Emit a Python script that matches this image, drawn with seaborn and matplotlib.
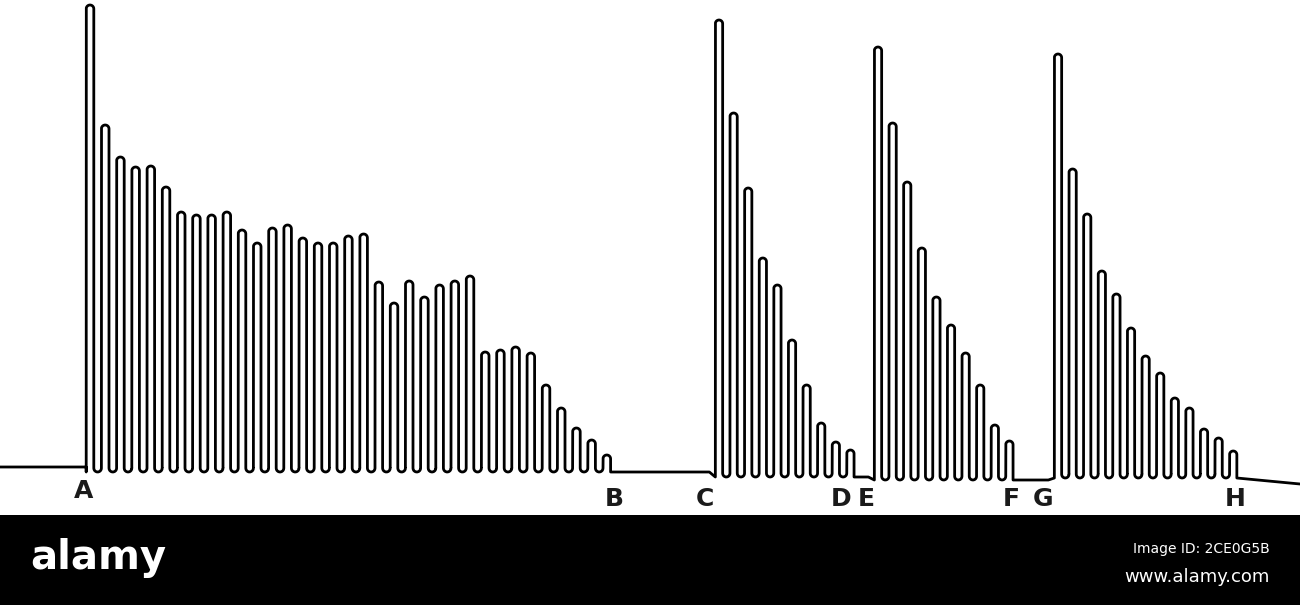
import numpy as np
import pandas as pd
import matplotlib
matplotlib.use('Agg')
import matplotlib.pyplot as plt
from matplotlib import font_manager
import seaborn as sns

# Ergograph tracing: lift heights of each contraction, read off the drum
# (units = height above the abscissa of each series)
heights_ab = [467, 347, 315, 305, 306, 285, 260, 257, 257, 260, 242, 229,
              244, 247, 234, 229, 229, 236, 238, 190, 169, 191, 175, 187,
              191, 196, 120, 122, 125, 119, 87, 64, 44, 32, 17]
heights_cd = [457, 364, 289, 219, 192, 137, 92, 54, 35, 27]
heights_ef = [433, 357, 298, 232, 183, 155, 127, 95, 55, 39]
heights_gh = [424, 309, 264, 207, 184, 150, 122, 105, 80, 70, 49, 40, 27]
series_labels = [("A", "B"), ("C", "D"), ("E", "F"), ("G", "H")]

# drum layout (where each series starts, beat spacing, baseline drift)
series = [heights_ab, heights_cd, heights_ef, heights_gh]
starts = [90, 719, 878, 1058]
steps = [15.2, 14.6, 14.6, 14.6]
bases = [0, -5, -8, -6]
label_dx = [(-6, 7), (-14, -9), (-12, 2), (-15, 2)]

sns.set_theme(style="white")
plt.rcParams['font.family'] = ['DejaVu Sans']

names = {f.name for f in font_manager.fontManager.ttflist}
narrow = 'Liberation Sans Narrow' in names


def trace_series(x0, step, hs, base):
    # one continuous pen line: up-stroke, rounded top, down-stroke, rounded foot
    w = step / 4
    xs, ys = [], []
    for i, h in enumerate(hs):
        c = x0 + i * step
        xs += [c - w, c - w]
        ys += [base + w if i else base, base + h - w]
        t = np.linspace(np.pi, 0, 14)
        xs += list(c + w * np.cos(t))
        ys += list(base + h - w + w * np.sin(t))
        if i < len(hs) - 1:
            t = np.linspace(np.pi, 2 * np.pi, 10)
            xs += list(c + 2 * w + w * np.cos(t))
            ys += list(base + w + w * np.sin(t))
        else:
            xs += [c + w]
            ys += [base]
    return xs, ys


xs, ys = [0, starts[0] - steps[0] / 4], [5, 5]
for k, (hs, x0, st, b) in enumerate(zip(series, starts, steps, bases)):
    gx, gy = trace_series(x0, st, hs, b)
    if k:
        # pen runs flat along the previous abscissa until the next series
        xs.append(x0 - st / 4 - 6)
        ys.append(ys[-1])
    xs += gx
    ys += gy
xs.append(1300)
ys.append(-12)

trace = pd.DataFrame({'x': xs, 'y': ys, 'order': np.arange(len(xs))})

fig = plt.figure(figsize=(13, 6.05), dpi=100)
ax = fig.add_axes([0, 90 / 605, 1, 515 / 605])
sns.lineplot(data=trace, x='x', y='y', sort=False, estimator=None,
             color='black', lw=2.0, ax=ax)
ax.set_xlim(0, 1300)
ax.set_ylim(-43, 472)
ax.axis('off')

for hs, x0, st, b, (l1, l2), (d1, d2) in zip(series, starts, steps, bases,
                                               series_labels, label_dx):
    ya = -19 if l1 == "A" else -27
    ax.text(x0 + d1, ya, l1, ha='center', va='center', fontsize=18,
            fontweight='bold', color='#1a1a1a')
    ax.text(x0 + (len(hs) - 1) * st + d2, -27, l2, ha='center', va='center',
            fontsize=18, fontweight='bold', color='#1a1a1a')

# stock banner
bax = fig.add_axes([0, 0, 1, 90 / 605])
bax.set_facecolor('black')
bax.set_xticks([])
bax.set_yticks([])
for s in bax.spines.values():
    s.set_visible(False)

if narrow:
    fam = 'Liberation Sans Narrow'
    sz_logo, sz_id, sz_www = 37, 12, 15
else:
    fam = 'DejaVu Sans'
    sz_logo, sz_id, sz_www = 29, 10, 13

fig.text(30 / 1300, 36 / 605, 'alamy', color='white', fontsize=sz_logo,
         fontweight='bold', family=fam, ha='left', va='baseline')
fig.text(1270 / 1300, 52 / 605, 'Image ID: 2CE0G5B', color='white',
         fontsize=sz_id, family=fam, ha='right', va='baseline')
fig.text(1270 / 1300, 23 / 605, 'www.alamy.com', color='white',
         fontsize=sz_www, family=fam, ha='right', va='baseline')

fig.savefig('out.png', dpi=100, facecolor='white')
